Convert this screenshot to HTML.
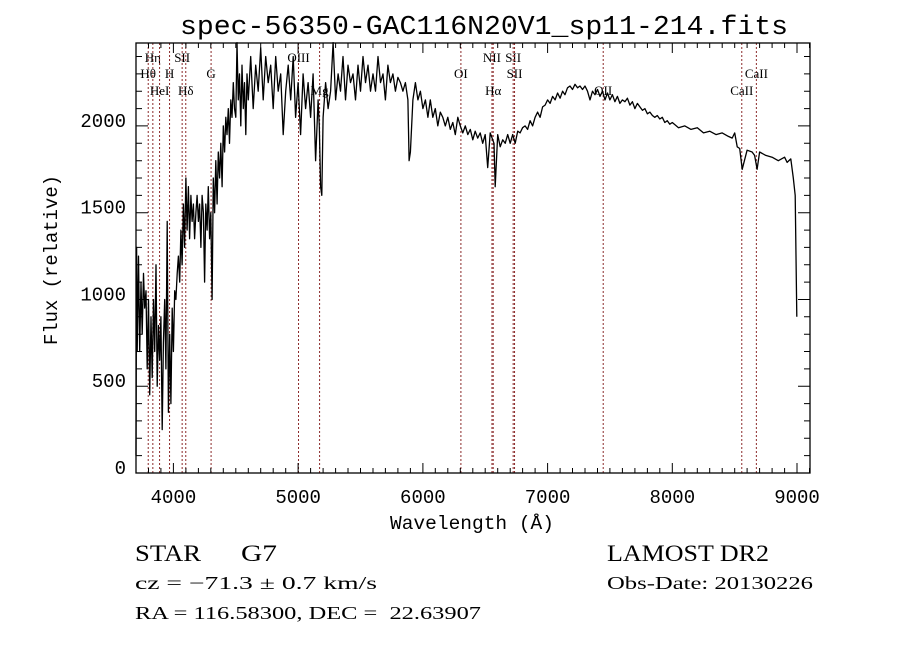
<!DOCTYPE html>
<html><head><meta charset="utf-8"><style>
html,body{margin:0;padding:0;background:#fff;}
svg{display:block;}
</style></head><body>
<svg id="chart" width="900" height="649" viewBox="0 0 900 649" xmlns="http://www.w3.org/2000/svg">
<rect width="900" height="649" fill="#fff"/>
<text x="484" y="34" text-anchor="middle" font-family="Liberation Mono, monospace" font-size="27" textLength="608" lengthAdjust="spacingAndGlyphs">spec-56350-GAC116N20V1_sp11-214.fits</text>
<g id="lines"></g>
<g id="spec"></g>
<g id="axes"></g>
<text x="472" y="529" text-anchor="middle" font-family="Liberation Mono, monospace" font-size="19" textLength="164" lengthAdjust="spacingAndGlyphs">Wavelength (Å)</text>
<text transform="translate(57,260) rotate(-90)" text-anchor="middle" font-family="Liberation Mono, monospace" font-size="19" textLength="170" lengthAdjust="spacingAndGlyphs">Flux (relative)</text>
<text x="135" y="561" font-family="Liberation Serif, serif" font-size="23" textLength="66" lengthAdjust="spacingAndGlyphs">STAR</text>
<text x="241" y="561" font-family="Liberation Serif, serif" font-size="23" textLength="36" lengthAdjust="spacingAndGlyphs">G7</text>
<text x="607" y="561" font-family="Liberation Serif, serif" font-size="23" textLength="162" lengthAdjust="spacingAndGlyphs">LAMOST DR2</text>
<text x="135" y="589" font-family="Liberation Serif, serif" font-size="18" textLength="242" lengthAdjust="spacingAndGlyphs">cz = −71.3 ± 0.7 km/s</text>
<text x="607" y="589" font-family="Liberation Serif, serif" font-size="18" textLength="206" lengthAdjust="spacingAndGlyphs">Obs-Date: 20130226</text>
<text x="135" y="619" xml:space="preserve" style="white-space:pre" font-family="Liberation Serif, serif" font-size="18" textLength="346" lengthAdjust="spacingAndGlyphs">RA = 116.58300, DEC =  22.63907</text>
</svg>
<script>
const xTicks=[4000,5000,6000,7000,8000,9000];
const yTicks=[0,500,1000,1500,2000];
const lineNames=["Hθ","Hη","HeI","H","SII","Hδ","G","OIII","Mg","OI","NII","Hα","SII","SII","OII","CaII","CaII"];
const lineWaves=[3798,3835,3889,3969,4070,4099,4302,5003,5172,6305,6554,6564,6724,6735,7446,8557,8674];
const lineRows=[2,1,3,2,1,3,2,1,3,2,1,3,1,2,3,3,2];
const waves=[3700,3705,3710,3720,3730,3740,3750,3760,3770,3780,3790,3800,3810,3820,3830,3840,3850,3860,3870,3880,3890,3900,3910,3920,3930,3940,3950,3960,3970,3980,3990,4000,4010,4020,4030,4040,4050,4060,4070,4080,4090,4100,4110,4120,4130,4140,4150,4160,4170,4180,4190,4200,4210,4220,4230,4240,4250,4260,4270,4280,4290,4300,4310,4320,4330,4340,4350,4360,4370,4380,4390,4400,4410,4420,4430,4440,4450,4460,4470,4480,4490,4500,4510,4520,4530,4540,4550,4560,4570,4580,4590,4600,4620,4640,4660,4680,4700,4720,4740,4760,4780,4800,4820,4840,4860,4880,4900,4920,4940,4960,4980,5000,5020,5040,5060,5080,5100,5120,5140,5160,5170,5180,5190,5200,5220,5240,5260,5280,5300,5320,5340,5360,5380,5400,5420,5440,5460,5480,5500,5520,5540,5560,5580,5600,5620,5640,5660,5680,5700,5720,5740,5760,5780,5800,5820,5840,5860,5880,5890,5900,5920,5940,5960,5980,6000,6020,6040,6060,6080,6100,6120,6140,6160,6180,6200,6220,6240,6260,6280,6300,6320,6340,6360,6380,6400,6420,6440,6460,6480,6500,6520,6540,6560,6570,6580,6600,6620,6640,6660,6680,6700,6720,6740,6760,6780,6800,6820,6840,6860,6880,6900,6920,6940,6960,6980,7000,7020,7040,7060,7080,7100,7120,7140,7160,7180,7200,7220,7240,7260,7280,7300,7320,7340,7360,7380,7400,7420,7440,7460,7480,7500,7520,7540,7560,7580,7600,7620,7640,7660,7680,7700,7720,7740,7760,7780,7800,7820,7840,7860,7880,7900,7920,7940,7960,7980,8000,8050,8100,8150,8200,8250,8300,8350,8400,8450,8480,8500,8520,8540,8560,8600,8640,8660,8680,8700,8750,8800,8850,8900,8920,8950,8970,8985,8998];
const flux=[100,1300,700,1250,700,1100,800,1150,950,1050,600,1000,450,900,550,1000,700,1200,500,850,650,900,250,750,1000,600,1450,350,800,400,950,700,1050,1000,1150,1250,1100,1400,1200,1550,1300,1700,1400,1650,1350,1600,1450,1550,1350,1500,1600,1450,1550,1300,1600,1500,1100,1550,1400,1650,1350,1500,1000,1700,1500,1800,1550,1850,1700,1900,1650,2000,1850,2050,1950,2100,1900,2150,2050,2250,2100,2050,2480,2150,2300,2000,2350,2100,2250,1950,2300,2150,2400,2100,2350,2200,2450,2150,2400,2250,2350,2100,2400,2200,2300,1950,2200,2350,2150,2400,2050,2250,1950,2300,2100,2250,2050,2300,1800,2150,2000,1650,1600,2050,2250,2100,2200,2480,2150,2300,2200,2400,2150,2350,2250,2300,2150,2350,2200,2400,2250,2350,2200,2300,2200,2400,2250,2300,2150,2350,2250,2300,2200,2280,2250,2200,2250,2150,1800,1850,2150,2250,2150,2200,2100,2150,2050,2150,2050,2100,2000,2080,2050,2000,2050,1980,2020,1950,2050,2000,1960,2000,1950,1980,1920,1970,1930,1960,1900,1950,1760,1960,1920,1900,1650,1950,1880,1920,1900,1950,1900,1950,1900,1970,1960,1990,2000,1980,2030,2000,2050,2080,2050,2110,2120,2150,2130,2170,2150,2190,2160,2200,2180,2220,2230,2210,2240,2220,2230,2210,2230,2200,2150,2200,2180,2210,2170,2200,2150,2190,2150,2180,2140,2170,2130,2150,2140,2160,2120,2140,2100,2130,2110,2090,2100,2070,2080,2060,2050,2060,2040,2050,2020,2030,2010,2020,1990,2000,1980,1990,1960,1970,1950,1960,1940,1930,1960,1880,1870,1750,1860,1850,1830,1750,1850,1830,1820,1800,1820,1790,1810,1700,1600,900,600];

const NS='http://www.w3.org/2000/svg';
const L=136,R=810,T=43,B=473, XMIN=3700,XMAX=9104,YMIN=0,YMAX=2478;
function xs(w){return L+(w-XMIN)/(XMAX-XMIN)*(R-L);}
function ys(f){return B-(f-YMIN)/(YMAX-YMIN)*(B-T);}
function mk(tag,attrs,parent){const e=document.createElementNS(NS,tag);for(const k in attrs)e.setAttribute(k,attrs[k]);parent.appendChild(e);return e;}

const gl=document.getElementById('lines');
lineWaves.forEach((w,i)=>{
  const ln=mk('line',{x1:xs(w),x2:xs(w),y1:T,y2:B,stroke:'#8b2a2a','stroke-width':1,'stroke-dasharray':'2,2'},gl);
  
  
  const t=mk('text',{x:xs(w),y:[0,62,78,95][lineRows[i]],'text-anchor':'middle','font-family':'Liberation Serif, serif','font-size':13},gl);
  t.textContent=lineNames[i];
  
  
});

const gs=document.getElementById('spec');
let d='';
waves.forEach((w,i)=>{d+=(i?'L':'M')+xs(w).toFixed(1)+','+ys(flux[i]).toFixed(1);});
const p=mk('path',{d:d,fill:'none',stroke:'#000','stroke-width':1.3,'stroke-linejoin':'round'},gs);



const ga=document.getElementById('axes');
const fr=mk('rect',{x:L,y:T,width:R-L,height:B-T,fill:'none',stroke:'#000','stroke-width':1.3},ga);


let td='';
for(let w=3700;w<=9100;w+=100){const x=xs(w).toFixed(1);const len=(w%1000===0)?10:5;td+=`M${x},${B}v${-len}M${x},${T}v${len}`;}
for(let f=0;f<=2400;f+=100){const y=ys(f).toFixed(1);const len=(f%500===0)?12:6;td+=`M${L},${y}h${len}M${R},${y}h${-len}`;}
const tk=mk('path',{d:td,stroke:'#000','stroke-width':1,fill:'none'},ga);


xTicks.forEach(w=>{
  const t=mk('text',{x:xs(w),y:B+30,'text-anchor':'middle','font-family':'Liberation Mono, monospace','font-size':19},ga);
  t.textContent=w;
  
  
});
yTicks.forEach(f=>{
  const t=mk('text',{x:L-10,y:ys(f)+1,'text-anchor':'end','font-family':'Liberation Mono, monospace','font-size':19},ga);
  t.textContent=f;
  
  
});
</script>
</body></html>
